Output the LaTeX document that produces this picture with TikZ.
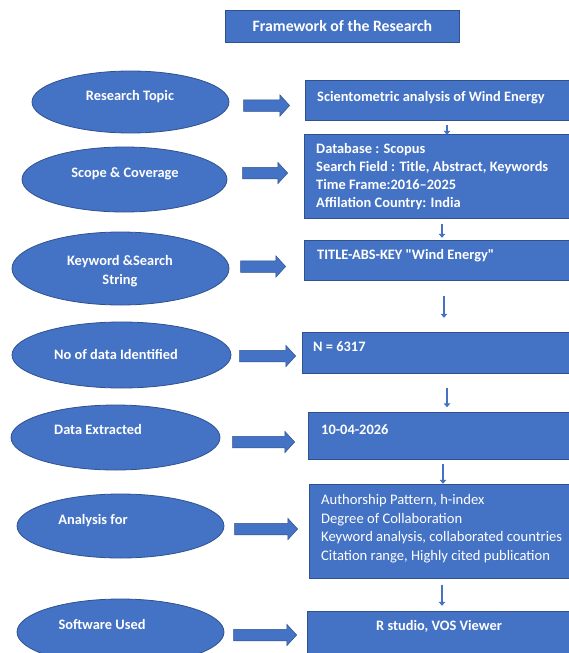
\documentclass[tikz,border=0pt]{standalone}
\usepackage{fontspec}
\setmainfont{Carlito}[Ligatures=TeXOff]
\usetikzlibrary{shapes.geometric,shapes.arrows,arrows.meta}
\definecolor{ofblue}{HTML}{4472C4}
\definecolor{ofline}{HTML}{2F528F}
\begin{document}
\begin{tikzpicture}[x=1pt,y=-1pt,
  ell/.style={ellipse,draw=ofline,fill=ofblue,line width=0.8pt,inner sep=0pt},
  box/.style={rectangle,draw=ofline,fill=ofblue,line width=0.8pt,inner sep=0pt,anchor=north west},
  etxt/.style={text=white,font=\fontsize{14.4}{17}\selectfont\bfseries,inner sep=0pt,text height=9.4pt,text depth=0pt},
  btxt/.style={text=white,font=\fontsize{14.4}{17}\selectfont\bfseries,inner sep=0pt,anchor=west,text height=9.4pt,text depth=0pt},
  rtxt/.style={text=white,font=\fontsize{14.6}{17}\selectfont,inner sep=0pt,anchor=west,text height=9.4pt,text depth=0pt},
  barrow/.style={single arrow,draw=ofline,fill=ofblue,line width=0.5pt,inner xsep=0pt,inner ysep=5.5pt,
    single arrow head extend=5pt,single arrow tip angle=95},
  varrow/.style={draw=ofblue,line width=2.6pt,-{Triangle[width=6.5pt,length=4pt]}}
]
\useasboundingbox (0,0) rectangle (569,653);
\clip (0,0) rectangle (569,653);
\fill[white] (0,0) rectangle (569,653);
% title
\node[box,minimum width=234pt,minimum height=32pt] (title) at (225,10) {};
\node[etxt,font=\fontsize{15.8}{18}\selectfont\bfseries,text height=10.2pt] (tt) at (title.center) {Framework of the Research};
% ellipses
\node[ell,minimum width=197pt,minimum height=62pt] (e1) at (130.5,102) {};
\node[etxt] (t1) at (130,96) {Research Topic};
\node[ell,minimum width=205pt,minimum height=65pt] (e2) at (124.5,179.5) {};
\node[etxt] (t2) at (125,173) {Scope \& Coverage};
\node[ell,minimum width=217pt,minimum height=73pt] (e3) at (120.5,268.5) {};
\node[etxt] (t3a) at (120,260.5) {Keyword \&Search};
\node[etxt] (t3b) at (120,279.5) {String};
\node[ell,minimum width=219pt,minimum height=66pt] (e4) at (121.5,355) {};
\node[etxt] (t4) at (116,355) {No of data Identified};
\node[ell,minimum width=209pt,minimum height=65pt] (e5) at (115.5,437.5) {};
\node[etxt] (t5) at (98,430) {Data Extracted};
\node[ell,minimum width=207pt,minimum height=64pt] (e6) at (120.5,526) {};
\node[etxt] (t6) at (93,520) {Analysis for};
\node[ell,minimum width=207pt,minimum height=66pt] (e7) at (120.5,632) {};
\node[etxt] (t7) at (102,625) {Software Used};
% boxes
\node[box,minimum width=280pt,minimum height=40pt] (b1) at (305,80) {};
\node[btxt] (s1) at (317,96.5) {Scientometric analysis of Wind Energy};
\node[box,minimum width=280pt,minimum height=84pt] (b2) at (304,134) {};
\node[btxt] (s2a) at (316,149) {Database : Scopus};
\node[btxt] (s2b) at (316,167) {Search Field : Title, Abstract, Keywords};
\node[btxt] (s2c) at (316,185) {Time Frame:2016–2025};
\node[btxt] (s2d) at (316,203) {Affilation Country: India};
\node[box,minimum width=280pt,minimum height=40pt] (b3) at (304,240) {};
\node[btxt] (s3) at (317,255) {TITLE-ABS-KEY "Wind Energy"};
\node[box,minimum width=280pt,minimum height=41pt] (b4) at (302,331.5) {};
\node[btxt] (s4) at (313,347) {N = 6317};
\node[box,minimum width=280pt,minimum height=47pt] (b5) at (308,412) {};
\node[btxt] (s5) at (321,429.5) {10-04-2026};
\node[box,minimum width=280pt,minimum height=94pt] (b6) at (309,484) {};
\node[rtxt] (s6a) at (321,499.5) {Authorship Pattern, h-index};
\node[rtxt] (s6b) at (321,518.5) {Degree of Collaboration};
\node[rtxt] (s6c) at (321,537) {Keyword analysis, collaborated countries};
\node[rtxt] (s6d) at (321,555.5) {Citation range, Highly cited publication};
\node[box,minimum width=280pt,minimum height=50pt] (b7) at (307,611) {};
\node[etxt] (s7) at (439,626) {R studio, VOS Viewer};
% block arrows
\node[barrow,minimum height=46pt] (a1) at (264,105.5) {};
\node[barrow,minimum height=45pt] (a2) at (262.5,173) {};
\node[barrow,minimum height=45pt] (a3) at (260.5,266.5) {};
\node[barrow,minimum height=56pt] (a4) at (265,356) {};
\node[barrow,minimum height=62pt] (a5) at (261,442) {};
\node[barrow,minimum height=63pt] (a6) at (263.5,529) {};
\node[barrow,minimum height=63pt] (a7) at (262.5,635) {};
% vertical arrows
\draw[varrow] ([xshift=142pt,yshift=-4pt]b1.south west) -- ++(0,10);
\draw[varrow] ([xshift=138pt,yshift=-5pt]b2.south west) -- ++(0,14);
\draw[varrow] ([xshift=140pt,yshift=-15pt]b3.south west) -- ++(0,22);
\draw[varrow] ([xshift=145pt,yshift=-15pt]b4.south west) -- ++(0,19);
\draw[varrow] ([xshift=135pt,yshift=-4pt]b5.south west) -- ++(0,20);
\draw[varrow] ([xshift=133pt,yshift=-6pt]b6.south west) -- ++(0,21);
\end{tikzpicture}
\end{document}
